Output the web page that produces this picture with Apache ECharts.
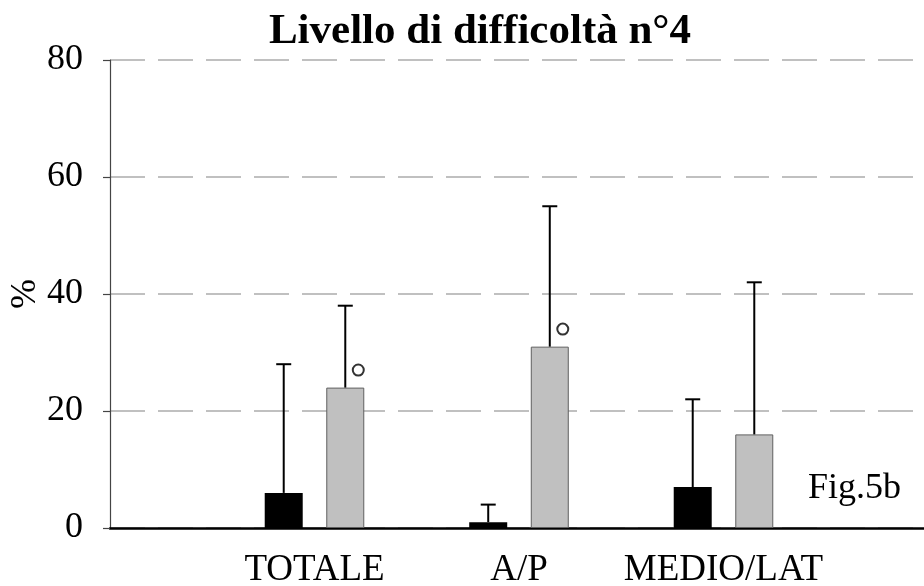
<!DOCTYPE html>
<html>
<head>
<meta charset="utf-8">
<script src="https://cdn.jsdelivr.net/npm/echarts@6/dist/echarts.min.js"></script>
<style>
  html, body { margin: 0; padding: 0; background: #ffffff; }
  #chart { width: 924px; height: 586px; }
</style>
</head>
<body>
<div id="chart"></div>
<script>
// Categories (empty slots at both ends keep the groups away from the axes)
const categories = ['', 'TOTALE', 'A/P', 'MEDIO/LAT', ''];

// Black group: mean value and upper end of the error bar (%)
const blackValues = [null, 6, 1, 7, null];
const blackUpper  = [null, 28, 4, 22, null];

// Grey group: mean value and upper end of the error bar (%)
const greyValues = [null, 24, 31, 16, null];
const greyUpper  = [null, 38, 55, 42, null];

// Significance markers drawn beside the grey bars: [category index, value]
const markerPoints = [[1, 27], [2, 34]];

// Y axis ticks
const yTicks = [0, 20, 40, 60, 80];

const SERIF = '"Liberation Serif", "Times New Roman", serif';
const BAR_W = 38;
const BAR_GAP = 0.62;                       // gap between the two bars, as a share of bar width
const HALF_STEP = BAR_W * (1 + BAR_GAP) / 2; // distance from group centre to each bar centre

function errorData(values, upper) {
  const out = [];
  values.forEach((v, i) => {
    if (v != null && upper[i] != null) out.push([i, v, upper[i]]);
  });
  return out;
}

function errorRenderer(offset) {
  return function (params, api) {
    const i = api.value(0);
    const p0 = api.coord([i, api.value(1)]);
    const p1 = api.coord([i, api.value(2)]);
    const x = p0[0] + offset;
    const cap = 7.5;
    const style = { stroke: '#000', lineWidth: 2 };
    return {
      type: 'group',
      children: [
        { type: 'line', shape: { x1: x, y1: p0[1], x2: x, y2: p1[1] }, style: style },
        { type: 'line', shape: { x1: x - cap, y1: p1[1], x2: x + cap, y2: p1[1] }, style: style }
      ]
    };
  };
}

const chart = echarts.init(document.getElementById('chart'), null, { renderer: 'canvas' });

chart.setOption({
  backgroundColor: '#ffffff',
  animation: false,
  title: {
    text: 'Livello di difficoltà n°4',
    left: 475,
    textAlign: 'center',
    top: 5,
    textStyle: { fontFamily: SERIF, fontWeight: 'bold', fontSize: 43, color: '#000' }
  },
  grid: { left: 110, top: 60, width: 818, height: 468, containLabel: false, outerBoundsMode: 'none' },
  xAxis: {
    type: 'category',
    data: categories,
    boundaryGap: false,
    axisLine: { show: true, lineStyle: { color: '#000', width: 2.5 } },
    axisTick: { show: false },
    axisLabel: { fontFamily: SERIF, fontSize: 37, color: '#000', margin: 24, interval: 0 },
    splitLine: { show: false }
  },
  yAxis: {
    type: 'value',
    min: yTicks[0],
    max: yTicks[yTicks.length - 1],
    interval: 20,
    name: '%',
    nameLocation: 'middle',
    nameGap: 66,
    nameMoveOverlap: false,
    nameTextStyle: { fontFamily: SERIF, fontSize: 36, color: '#000' },
    axisLine: { show: true, lineStyle: { color: '#444', width: 1.2 } },
    axisTick: { show: true, inside: false, length: 7, lineStyle: { color: '#444', width: 1.2 } },
    axisLabel: { fontFamily: SERIF, fontSize: 36, color: '#000', margin: 27 },
    splitLine: { show: true, lineStyle: { color: '#c0c0c0', width: 2, type: [35, 13] } }
  },
  series: [
    {
      type: 'bar',
      name: 'serie 1',
      data: blackValues,
      barWidth: BAR_W,
      barGap: (BAR_GAP * 100) + '%',
      itemStyle: { color: '#000000' },
      z: 2
    },
    {
      type: 'bar',
      name: 'serie 2',
      data: greyValues,
      barWidth: BAR_W,
      itemStyle: { color: '#c0c0c0', borderColor: '#606060', borderWidth: 1 },
      z: 2
    },
    {
      type: 'custom',
      name: 'errore 1',
      data: errorData(blackValues, blackUpper),
      renderItem: errorRenderer(-HALF_STEP),
      encode: { x: 0, y: [1, 2] },
      z: 3
    },
    {
      type: 'custom',
      name: 'errore 2',
      data: errorData(greyValues, greyUpper),
      renderItem: errorRenderer(HALF_STEP),
      encode: { x: 0, y: [1, 2] },
      z: 3
    },
    {
      type: 'scatter',
      name: 'significatività',
      data: markerPoints,
      symbol: 'circle',
      symbolSize: 11,
      symbolOffset: [HALF_STEP + 13, 0],
      itemStyle: { color: '#ffffff', borderColor: '#000', borderWidth: 2 },
      z: 4
    }
  ],
  graphic: [
    {
      type: 'text',
      left: 808,
      top: 471,
      style: { text: 'Fig.5b', fontFamily: SERIF, fontSize: 36, fill: '#000' }
    }
  ]
});
</script>
</body>
</html>
